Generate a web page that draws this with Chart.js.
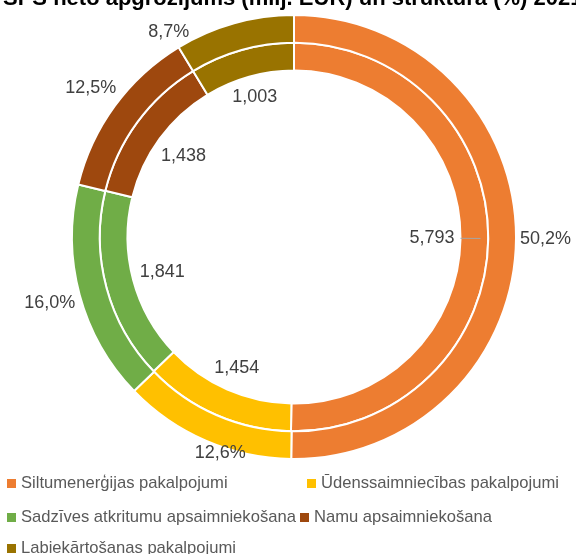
<!DOCTYPE html>
<html>
<head>
<meta charset="utf-8">
<script src="https://cdn.jsdelivr.net/npm/chart.js@4.4.1/dist/chart.umd.min.js"></script>
<style>
  html, body { margin: 0; padding: 0; background: #fff; }
  #wrap { width: 576px; height: 554px; }
</style>
</head>
<body>
<div id="wrap"><canvas id="turnoverChart" width="576" height="554"></canvas></div>
<script>
// SPS turnover by sector, 2021 - outer ring: share (%), inner ring: milj. EUR

const titleText = 'SPS neto apgrozījums (milj. EUR) un struktūra (%) 2021. gadā';
const categories = [
    'Siltumenerģijas pakalpojumi',
    'Ūdenssaimniecības pakalpojumi',
    'Sadzīves atkritumu apsaimniekošana',
    'Namu apsaimniekošana',
    'Labiekārtošanas pakalpojumi'
];
const shares = [50.2, 12.6, 16.0, 12.5, 8.7];
const turnover = [5.793, 1.454, 1.841, 1.438, 1.003];
const colors = ['#ED7D31', '#FFC000', '#70AD47', '#9E480E', '#997300'];

const FONT = '"Liberation Sans", Arial, sans-serif';

function fmtShare(v) {
    return v.toFixed(1).replace('.', ',') + '%';
}

function fmtValue(v) {
    return v.toFixed(3).replace('.', ',');
}

// Title (top of it is cut off in the original image)
const titlePlugin = {
    id: 'topTitle',
    afterDraw(chart) {
        const ctx = chart.ctx;
        ctx.save();
        ctx.font = 'bold 22px ' + FONT;
        ctx.fillStyle = '#000000';
        ctx.textAlign = 'left';
        ctx.textBaseline = 'alphabetic';
        ctx.fillText(titleText, 3, 5);
        ctx.restore();
    }
};

// Data labels: outer ring outside, inner ring inside the hole
const ringLabels = {
    id: 'ringLabels',
    afterDatasetsDraw(chart) {
        const ctx = chart.ctx;
        ctx.save();
        ctx.font = '18px ' + FONT;
        ctx.fillStyle = '#404040';
        ctx.textAlign = 'center';
        ctx.textBaseline = 'middle';
        const hh = 9;

        chart.data.datasets.forEach((ds, di) => {
            const meta = chart.getDatasetMeta(di);
            meta.data.forEach((arc, i) => {
                const p = arc.getProps(['x', 'y', 'startAngle', 'endAngle', 'innerRadius', 'outerRadius'], true);
                const mid = (p.startAngle + p.endAngle) / 2;
                const cos = Math.cos(mid), sin = Math.sin(mid);
                const text = di === 0 ? fmtShare(ds.data[i]) : fmtValue(ds.data[i]);
                const hw = ctx.measureText(text).width / 2;
                const ext = Math.abs(cos) * hw + Math.abs(sin) * hh;
                let lx, ly;

                if (di === 0) {
                    const r = p.outerRadius + 4 + ext;
                    lx = p.x + cos * r;
                    ly = p.y + sin * r;
                    // keep it inside the plot, slide along the circle
                    const minY = 32;
                    if (ly < minY) {
                        const dy = p.y - minY;
                        ly = minY;
                        lx = p.x + Math.sign(cos) * Math.sqrt(Math.max(r * r - dy * dy, 0));
                    }
                    // bottom labels sit a bit tighter to the ring
                    const maxY = 453;
                    if (ly > maxY) {
                        lx += (ly - maxY) * 2.8;
                        ly = maxY;
                    }
                } else {
                    const r = p.innerRadius - 6 - ext;
                    lx = p.x + cos * r;
                    ly = p.y + sin * r;
                    // leader line for the big slice
                    if (p.endAngle - p.startAngle > Math.PI / 2) {
                        ctx.save();
                        ctx.strokeStyle = '#A6A6A6';
                        ctx.lineWidth = 1;
                        ctx.beginPath();
                        ctx.moveTo(p.x + cos * p.innerRadius, p.y + sin * p.innerRadius);
                        ctx.lineTo(p.x + cos * (p.innerRadius + 20), p.y + sin * (p.innerRadius + 20));
                        ctx.stroke();
                        ctx.restore();
                    }
                }
                ctx.fillText(text, lx, ly);
            });
        });
        ctx.restore();
    }
};

// Legend laid out like the Excel one
const legendRows = [[0, 1], [2, 3], [4]];
const legendX = [[7, 307], [7, 300], [7]];
const legendY = [483, 517, 548];

const excelLegend = {
    id: 'excelLegend',
    afterDraw(chart) {
        const ctx = chart.ctx;
        ctx.save();
        ctx.font = '16.6px ' + FONT;
        ctx.textBaseline = 'middle';
        ctx.textAlign = 'left';
        legendRows.forEach((row, ri) => {
            row.forEach((idx, k) => {
                const x = legendX[ri][k];
                const y = legendY[ri];
                ctx.fillStyle = colors[idx];
                ctx.fillRect(x, y - 4, 9, 9);
                ctx.fillStyle = '#595959';
                ctx.fillText(categories[idx], x + 14, y);
            });
        });
        ctx.restore();
    }
};

const ctx = document.getElementById('turnoverChart').getContext('2d');
new Chart(ctx, {
    type: 'doughnut',
    data: {
        labels: categories,
        datasets: [
            {
                label: 'Struktūra (%)',
                data: shares,
                backgroundColor: colors,
                borderColor: '#ffffff',
                borderWidth: 2
            },
            {
                label: 'Neto apgrozījums (milj. EUR)',
                data: turnover,
                backgroundColor: colors,
                borderColor: '#ffffff',
                borderWidth: 2
            }
        ]
    },
    options: {
        responsive: false,
        devicePixelRatio: 1,
        animation: false,
        cutout: '75%',
        layout: {
            padding: { left: 71, right: 59, top: 14, bottom: 94 }
        },
        plugins: {
            legend: { display: false },
            title: { display: false },
            tooltip: { enabled: false }
        }
    },
    plugins: [ringLabels, titlePlugin, excelLegend]
});
</script>
</body>
</html>
